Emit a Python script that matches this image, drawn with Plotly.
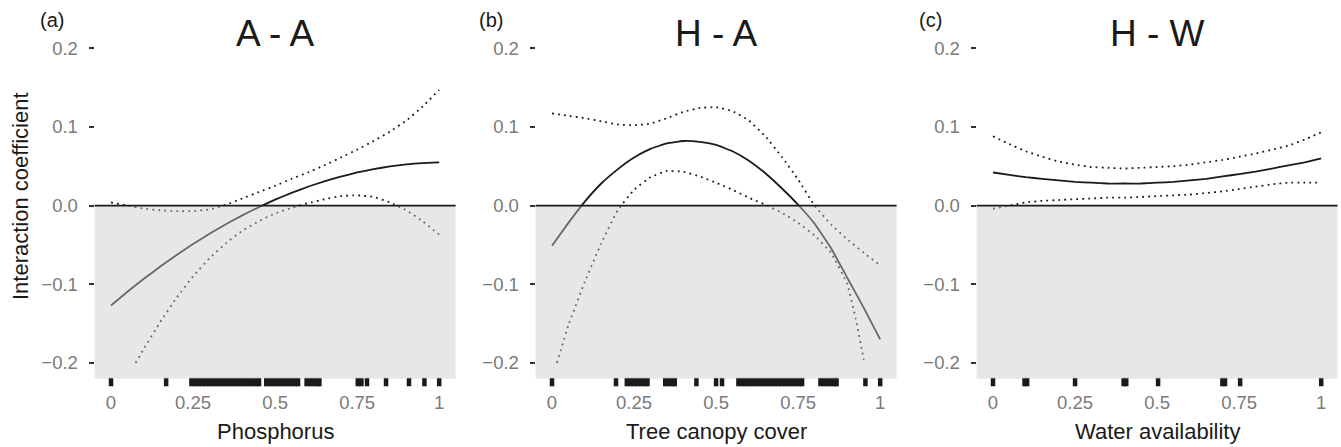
import plotly.graph_objects as go

# ---------------- data ----------------
x_grid = [0.00, 0.05, 0.10, 0.15, 0.20, 0.25, 0.30, 0.35, 0.40, 0.45, 0.50,
          0.55, 0.60, 0.65, 0.70, 0.75, 0.80, 0.85, 0.90, 0.95, 1.00]

# (a) A - A : Phosphorus
a_fit = [-0.1270, -0.1096, -0.0931, -0.0775, -0.0628, -0.0489, -0.0359, -0.0237, -0.0125, -0.0021,
         0.0075, 0.0161, 0.0239, 0.0308, 0.0368, 0.0420, 0.0463, 0.0497, 0.0523, 0.0540, 0.0548]
a_upper = [0.004, 0.000, -0.004, -0.006, -0.007, -0.007, -0.005, 0.001, 0.009, 0.017, 0.025,
           0.034, 0.042, 0.051, 0.061, 0.071, 0.082, 0.094, 0.108, 0.126, 0.147]
a_lower_x = [0.075, 0.10, 0.15, 0.20, 0.25, 0.30, 0.35, 0.40, 0.45, 0.50,
             0.55, 0.60, 0.65, 0.70, 0.75, 0.80, 0.85, 0.90, 0.95, 1.00]
a_lower = [-0.200, -0.182, -0.148, -0.117, -0.090, -0.067, -0.048, -0.032, -0.020, -0.010,
           -0.003, 0.003, 0.008, 0.012, 0.013, 0.011, 0.004, -0.006, -0.020, -0.037]
rug_a = [0.0, 0.168, 0.245, 0.256, 0.267, 0.278, 0.289, 0.300, 0.311, 0.322, 0.333, 0.344,
         0.355, 0.366, 0.377, 0.388, 0.399, 0.410, 0.421, 0.432, 0.443, 0.451, 0.473,
         0.484, 0.495, 0.506, 0.517, 0.528, 0.539, 0.550, 0.561, 0.570, 0.596, 0.607,
         0.618, 0.629, 0.635, 0.752, 0.763, 0.780, 0.838, 0.908, 0.955, 1.0]

# (b) H - A : Tree canopy cover
b_fit = [-0.051, -0.022, 0.005, 0.028, 0.046, 0.061, 0.072, 0.079, 0.082, 0.081, 0.077,
         0.069, 0.057, 0.041, 0.022, 0.001, -0.023, -0.054, -0.092, -0.130, -0.170]
b_upper = [0.117, 0.114, 0.111, 0.107, 0.103, 0.102, 0.104, 0.111, 0.119, 0.124, 0.125,
           0.120, 0.108, 0.088, 0.062, 0.033, 0.000, -0.024, -0.043, -0.060, -0.076]
b_lower_x = [0.015, 0.05, 0.10, 0.15, 0.20, 0.25, 0.30, 0.35, 0.40, 0.45, 0.50,
             0.55, 0.60, 0.65, 0.70, 0.75, 0.80, 0.85, 0.90, 0.925, 0.95]
b_lower = [-0.200, -0.152, -0.097, -0.048, -0.006, 0.020, 0.036, 0.044, 0.043, 0.037, 0.029,
           0.020, 0.010, 0.001, -0.009, -0.022, -0.038, -0.060, -0.100, -0.143, -0.196]
rug_b = [0.0, 0.195, 0.228, 0.239, 0.250, 0.261, 0.272, 0.283, 0.291, 0.345, 0.356, 0.367,
         0.374, 0.440, 0.500, 0.518, 0.568, 0.579, 0.590, 0.601, 0.612, 0.623, 0.634,
         0.645, 0.656, 0.667, 0.678, 0.689, 0.700, 0.711, 0.722, 0.733, 0.744, 0.755,
         0.762, 0.818, 0.829, 0.840, 0.851, 0.862, 0.867, 0.955, 1.0]

# (c) H - W : Water availability
c_fit = [0.042, 0.039, 0.036, 0.034, 0.032, 0.030, 0.029, 0.028, 0.028, 0.028, 0.029,
         0.030, 0.032, 0.034, 0.037, 0.040, 0.043, 0.047, 0.051, 0.055, 0.060]
c_upper = [0.088, 0.078, 0.069, 0.062, 0.056, 0.052, 0.049, 0.048, 0.047, 0.048, 0.049,
           0.050, 0.052, 0.055, 0.058, 0.062, 0.066, 0.071, 0.076, 0.084, 0.093]
c_lower = [-0.004, 0.000, 0.004, 0.006, 0.007, 0.008, 0.009, 0.010, 0.010, 0.011, 0.012,
           0.013, 0.014, 0.016, 0.018, 0.021, 0.024, 0.027, 0.029, 0.029, 0.029]
rug_c = [0.0, 0.096, 0.104, 0.250, 0.398, 0.406, 0.503, 0.699, 0.707, 0.753, 1.0]

titles = ["A - A", "H - A", "H - W"]
panel_tags = ["(a)", "(b)", "(c)"]
x_titles = ["Phosphorus", "Tree canopy cover", "Water availability"]
y_title = "Interaction coefficient"

x_tickvals = [0, 0.25, 0.5, 0.75, 1]
x_ticktext = ["0", "0.25", "0.5", "0.75", "1"]
y_tickvals = [-0.2, -0.1, 0.0, 0.1, 0.2]
y_ticktext = ["\u22120.2", "\u22120.1", "0.0", "0.1", "0.2"]

# ---------------- layout geometry ----------------
W, H = 1341, 447
x_domains = [[94.6 / W, 455.6 / W], [535.6 / W, 896.6 / W], [976.6 / W, 1337.6 / W]]
y_domain = [1 - 384.2 / H, 1 - 32.4 / H]
x_range = [-0.05, 1.05]
y_range = [-0.227, 0.22]
rug_y = -0.2243
tag_px = [52, 491, 930]

panels = [
    (x_grid, a_fit, x_grid, a_upper, a_lower_x, a_lower, rug_a),
    (x_grid, b_fit, x_grid, b_upper, b_lower_x, b_lower, rug_b),
    (x_grid, c_fit, x_grid, c_upper, x_grid, c_lower, rug_c),
]

FONT = "Liberation Sans, Arial, Helvetica, sans-serif"
LINE = "#1a1a1a"
TICKGREY = "#7a7a7a"

fig = go.Figure()
shapes = []
annotations = []

for i, (fx, fy, ux, uy, lx, ly, rug) in enumerate(panels):
    xs = "x" if i == 0 else f"x{i + 1}"
    ys = "y" if i == 0 else f"y{i + 1}"
    fig.add_trace(go.Scatter(x=fx, y=fy, mode="lines", xaxis=xs, yaxis=ys,
                             line=dict(color=LINE, width=1.8, shape="spline", smoothing=0.3),
                             showlegend=False, hoverinfo="skip"))
    for cx, cy in ((ux, uy), (lx, ly)):
        fig.add_trace(go.Scatter(x=cx, y=cy, mode="lines", xaxis=xs, yaxis=ys,
                                 line=dict(color=LINE, width=1.8, dash="1.8px,4.2px",
                                           shape="spline", smoothing=0.3),
                                 showlegend=False, hoverinfo="skip"))
    fig.add_trace(go.Scatter(x=rug, y=[rug_y] * len(rug), mode="markers", xaxis=xs, yaxis=ys,
                             marker=dict(symbol="line-ns", size=6,
                                         line=dict(color=LINE, width=4.5)),
                             showlegend=False, hoverinfo="skip", cliponaxis=False))

    xref_dom = ("x" if i == 0 else f"x{i + 1}") + " domain"
    # grey negative region (semi-transparent, drawn over the curves)
    shapes.append(dict(type="rect", xref=xref_dom, yref=ys, x0=0, x1=1, y0=-0.22, y1=0,
                       fillcolor="rgba(200,202,206,0.45)", line=dict(width=0), layer="above"))
    # zero reference line
    shapes.append(dict(type="line", xref=xref_dom, yref=ys, x0=0, x1=1, y0=0, y1=0,
                       line=dict(color=LINE, width=1.8), layer="above"))

    xc = (x_domains[i][0] + x_domains[i][1]) / 2
    annotations.append(dict(text=titles[i], xref="paper", yref="paper", x=xc, y=1 - 33 / H,
                            xanchor="center", yanchor="middle", showarrow=False,
                            font=dict(family=FONT, size=37, color="#1a1a1a")))
    annotations.append(dict(text=panel_tags[i], xref="paper", yref="paper", x=tag_px[i] / W,
                            y=1 - 20 / H, xanchor="center", yanchor="middle", showarrow=False,
                            font=dict(family=FONT, size=20, color="#1a1a1a")))
    annotations.append(dict(text=x_titles[i], xref="paper", yref="paper", x=xc, y=1 - 431 / H,
                            xanchor="center", yanchor="middle", showarrow=False,
                            font=dict(family=FONT, size=22, color="#1a1a1a")))

annotations.append(dict(text=y_title, xref="paper", yref="paper", x=21 / W, y=1 - 196 / H,
                        xanchor="center", yanchor="middle", textangle=-90, showarrow=False,
                        font=dict(family=FONT, size=22, color="#1a1a1a")))

layout = dict(width=W, height=H, margin=dict(l=0, r=0, t=0, b=0),
              paper_bgcolor="white", plot_bgcolor="white",
              font=dict(family=FONT), shapes=shapes, annotations=annotations,
              showlegend=False)

for i in range(3):
    xk = "xaxis" if i == 0 else f"xaxis{i + 1}"
    yk = "yaxis" if i == 0 else f"yaxis{i + 1}"
    layout[xk] = dict(domain=x_domains[i], anchor="y" if i == 0 else f"y{i + 1}",
                      range=x_range, tickvals=x_tickvals, ticktext=x_ticktext,
                      ticks="", showgrid=False, zeroline=False, showline=False,
                      tickfont=dict(family=FONT, size=18.5, color=TICKGREY),
                      ticklabelstandoff=5, fixedrange=True)
    layout[yk] = dict(domain=y_domain, anchor="x" if i == 0 else f"x{i + 1}",
                      range=y_range, tickvals=y_tickvals, ticktext=y_ticktext,
                      ticks="outside", ticklen=5, tickwidth=2, tickcolor="#333333",
                      showgrid=False, zeroline=False, showline=False,
                      tickfont=dict(family=FONT, size=18.5, color=TICKGREY),
                      ticklabelstandoff=7, fixedrange=True)

fig.update_layout(**layout)
fig.write_html("out.html")
